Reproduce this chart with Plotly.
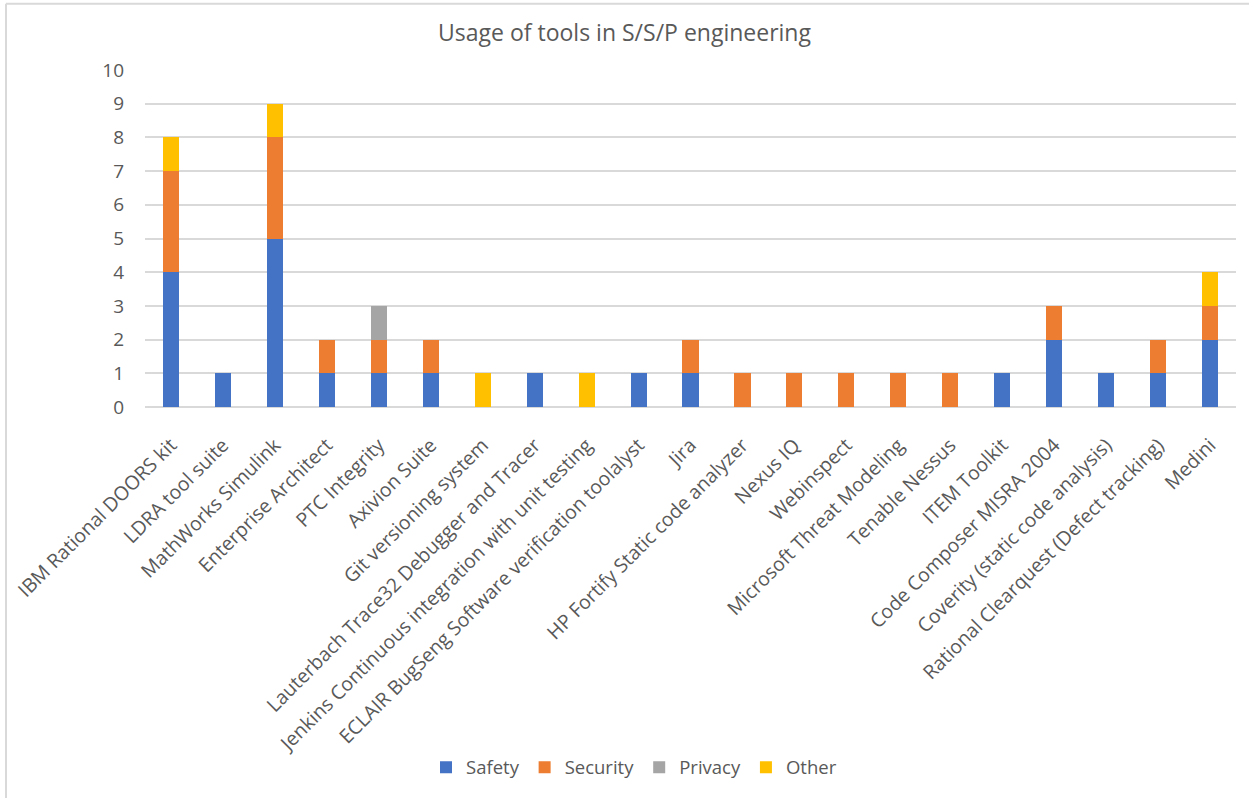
import plotly.graph_objects as go

tools = [
    "IBM Rational DOORS kit", "LDRA tool suite", "MathWorks Simulink",
    "Enterprise Architect", "PTC Integrity", "Axivion Suite",
    "Git versioning system", "Lauterbach Trace32 Debugger and Tracer",
    "Jenkins Continuous integration with unit testing",
    "ECLAIR BugSeng Software verification toolalyst", "Jira",
    "HP Fortify Static code analyzer", "Nexus IQ", "Webinspect",
    "Microsoft Threat Modeling", "Tenable Nessus", "ITEM Toolkit",
    "Code Composer MISRA 2004", "Coverity (static code analysis)",
    "Rational Clearquest (Defect tracking)", "Medini",
]
safety   = [4, 1, 5, 1, 1, 1, 0, 1, 0, 1, 1, 0, 0, 0, 0, 0, 1, 2, 1, 1, 2]
security = [3, 0, 3, 1, 1, 1, 0, 0, 0, 0, 1, 1, 1, 1, 1, 1, 0, 1, 0, 1, 1]
privacy  = [0, 0, 0, 0, 1, 0, 0, 0, 0, 0, 0, 0, 0, 0, 0, 0, 0, 0, 0, 0, 0]
other    = [1, 0, 1, 0, 0, 0, 1, 0, 1, 0, 0, 0, 0, 0, 0, 0, 0, 0, 0, 0, 1]
yticks = list(range(0, 11))

series = [
    ("Safety", safety, "#4472C4"),
    ("Security", security, "#ED7D31"),
    ("Privacy", privacy, "#A5A5A5"),
    ("Other", other, "#FFC000"),
]

FONT = "'Open Sans', Lato, sans-serif"
fig = go.Figure()
for name, vals, col in series:
    fig.add_trace(go.Bar(
        name=name, x=tools, y=vals, marker=dict(color=col, line=dict(width=0)),
    ))

fig.update_layout(
    barmode="stack",
    bargap=0.69,
    width=1249, height=798,
    paper_bgcolor="white", plot_bgcolor="white",
    margin=dict(l=145, r=13, t=70, b=387),
    font=dict(family=FONT, color="#595959", size=18),
    title=dict(text="Usage of tools in S/S/P engineering", x=0.5, xanchor="center",
               y=1 - 33 / 798, yanchor="middle", font=dict(size=23, color="#595959")),
    showlegend=True,
    legend=dict(orientation="h", x=(634 - 145) / 1091, xanchor="center",
                y=-(776 - 411) / 341, yanchor="middle",
                font=dict(size=18.5, color="#595959"),
                traceorder="normal", itemwidth=30),
    xaxis=dict(tickangle=-45, showgrid=False, showline=False, ticks="",
               ticklabelstandoff=22,
               tickfont=dict(size=19.5, color="#595959"), automargin=False),
    yaxis=dict(range=[0, 10], tickvals=yticks, showgrid=True, gridcolor="#D9D9D9",
               gridwidth=1.5, zeroline=True, zerolinecolor="#D9D9D9", zerolinewidth=1.5,
               ticks="", ticklabelstandoff=20,
               tickfont=dict(size=19, color="#595959"), automargin=False),
    shapes=[
        dict(type="line", xref="paper", yref="paper", x0=-139 / 1091, x1=1.02,
             y0=1 + 67 / 341, y1=1 + 67 / 341, line=dict(color="#D9D9D9", width=2)),
        dict(type="line", xref="paper", yref="paper", x0=-139 / 1091, x1=-139 / 1091,
             y0=1 + 67 / 341, y1=-2, line=dict(color="#D9D9D9", width=2)),
    ],
)

fig.write_html("out.html")
